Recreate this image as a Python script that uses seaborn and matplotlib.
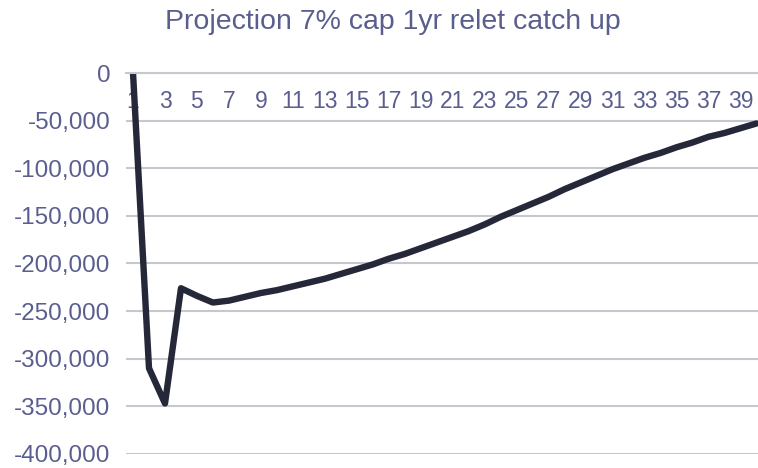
import pandas as pd
import matplotlib
matplotlib.use("Agg")
import matplotlib.pyplot as plt
import matplotlib.ticker as mticker
import seaborn as sns

# Data
years = list(range(1, 41))
cash_position = [
    0, -310000, -347000, -226000, -234000, -241000, -239000, -235000,
    -231000, -228000, -224000, -220000, -216000, -211000, -206000, -201000,
    -195000, -190000, -184000, -178000, -172000, -166000, -159000, -151000,
    -144000, -137000, -130000, -122000, -115000, -108000, -101000, -95000,
    -89000, -84000, -78000, -73000, -67000, -63000, -58000, -53000,
]
x_ticks = list(range(1, 41, 2))
y_ticks = list(range(0, -400001, -50000))

df = pd.DataFrame({"year": years, "value": cash_position})

sns.set_style("white")
plt.rcParams['font.family'] = ['Liberation Sans', 'DejaVu Sans']

text_col = '#5a5e8e'
grid_col = '#c6c7cf'

fig = plt.figure(figsize=(7.58, 4.68), dpi=100)
ax = fig.add_axes([0.166, 0.03, 0.834, 0.814])

sns.lineplot(data=df, x="year", y="value", color='#252839', linewidth=4.6, ax=ax)

ax.set_xlim(0.55, 40.1)
ax.set_ylim(-400000, 0)
ax.set_yticks(y_ticks)
ax.set_xticks(x_ticks)
ax.yaxis.set_major_formatter(mticker.FuncFormatter(lambda v, p: f"{int(v):,}"))

ax.grid(axis='y', color=grid_col, linewidth=1.5)
ax.set_axisbelow(True)
for side in ['left', 'right', 'top']:
    ax.spines[side].set_visible(False)
ax.spines['bottom'].set_position(('data', 0))
ax.spines['bottom'].set_color(grid_col)
ax.spines['bottom'].set_linewidth(1.5)

ax.tick_params(axis='x', length=0, pad=12, labelsize=16.5, colors=text_col)
ax.tick_params(axis='y', length=0, pad=11, labelsize=17.5, colors=text_col)
ax.set_xlabel('')
ax.set_ylabel('')

fig.text(0.518, 0.953, 'Projection 7% cap 1yr relet catch up', ha='center', va='center',
         fontsize=20.5, color=text_col)

fig.savefig("out.png", dpi=100)
